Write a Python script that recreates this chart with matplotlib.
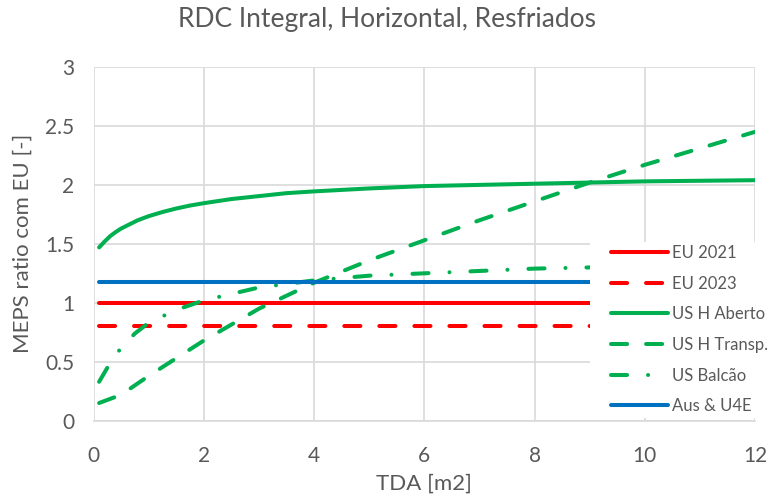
import matplotlib
matplotlib.use("Agg")
import matplotlib.pyplot as plt
from matplotlib.patches import Rectangle

plt.rcParams['font.family'] = ['Lato', 'DejaVu Sans']

# ---- data ----
x_const = [0.1, 12]
eu2021 = [1.0, 1.0]
eu2023 = [0.8, 0.8]
aus_u4e = [1.18, 1.18]

x_aberto = [0.1, 0.2, 0.3, 0.4, 0.5, 0.65, 0.8, 1, 1.25, 1.5, 1.75, 2, 2.5, 3, 3.5, 4, 5, 6, 7, 8, 9, 10, 11, 12]
y_aberto = [1.47, 1.52, 1.565, 1.60, 1.63, 1.665, 1.70, 1.735, 1.77, 1.80, 1.825, 1.845, 1.88, 1.905, 1.93, 1.945,
            1.97, 1.99, 2.00, 2.01, 2.02, 2.03, 2.035, 2.04]

x_transp = [0.1, 0.5, 1, 1.5, 2, 3, 4, 5, 6, 7, 8, 9, 10, 11, 12]
y_transp = [0.15, 0.22, 0.38, 0.53, 0.68, 0.95, 1.17, 1.36, 1.53, 1.70, 1.86, 2.02, 2.17, 2.31, 2.45]

x_balcao = [0.1, 0.25, 0.5, 0.75, 1, 1.5, 2, 3, 4, 5, 6, 8, 10, 12]
y_balcao = [0.33, 0.45, 0.62, 0.74, 0.83, 0.94, 1.02, 1.13, 1.19, 1.23, 1.25, 1.29, 1.31, 1.32]

labels = ["EU 2021", "EU 2023", "US H Aberto", "US H Transp.", "US Balcão", "Aus & U4E"]
xticks = [0, 2, 4, 6, 8, 10, 12]
yticks = [0, 0.5, 1, 1.5, 2, 2.5, 3]
ytick_labels = ["0", "0.5", "1", "1.5", "2", "2.5", "3"]

RED = "#FF0000"
GREEN = "#00B050"
BLUE = "#0070C0"
TXT = "#595959"
GRID = "#D9D9D9"
LW = 2.9

fig = plt.figure(figsize=(7.73, 4.94), dpi=100)
ax = fig.add_axes([93.6/773, 1-420.7/494, (755-93.6)/773, (420.7-67)/494])

common = dict(lw=LW, solid_capstyle='round', dash_capstyle='round', solid_joinstyle='round')
l1, = ax.plot(x_const, eu2021, color=RED, **common)
l2, = ax.plot(x_const, eu2023, color=RED, dashes=(4.0, 4.7), **common)
l3, = ax.plot(x_aberto, y_aberto, color=GREEN, **common)
l4, = ax.plot(x_transp, y_transp, color=GREEN, dashes=(4.0, 4.7), **common)
l5, = ax.plot(x_balcao, y_balcao, color=GREEN, dashes=(4.0, 5.2, 0.01, 5.2), **common)
l6, = ax.plot(x_const, aus_u4e, color=BLUE, **common)

ax.set_xlim(0, 12)
ax.set_ylim(0, 3)
ax.set_xticks(xticks)
ax.set_yticks(yticks)
ax.set_yticklabels(ytick_labels)
ax.grid(True, color=GRID, lw=1.2)
ax.set_axisbelow(True)
for s in ['top', 'right', 'left']:
    ax.spines[s].set_visible(False)
ax.spines['bottom'].set_color(GRID)
ax.spines['bottom'].set_linewidth(1.2)
ax.tick_params(axis='both', length=0, labelsize=15, colors=TXT)
ax.tick_params(axis='y', pad=14)
ax.tick_params(axis='x', pad=18)

ax.set_xlabel("TDA [m2]", fontsize=16, color=TXT, labelpad=6)
ax.set_ylabel("MEPS ratio com EU [-]", fontsize=16, color=TXT, labelpad=9)
fig.text(0.5, 1-19/494, "RDC Integral, Horizontal, Resfriados", ha='center', va='center',
         fontsize=19, color=TXT)

# white legend background
x0 = (590-93.6)/(755-93.6)
y0 = (420.7-418)/(420.7-67)
y1 = (420.7-242)/(420.7-67)
ax.add_patch(Rectangle((x0, y0), 1.05-x0, y1-y0, transform=ax.transAxes,
                       facecolor='white', edgecolor='none', zorder=5, clip_on=False))

leg = ax.legend([l1, l2, l3, l4, l5, l6], labels, loc='upper left',
                bbox_to_anchor=(606/773, 1-240/494), bbox_transform=fig.transFigure,
                frameon=False, fontsize=12, handlelength=3.4, handletextpad=0.25,
                labelspacing=0.88, borderpad=0.3, borderaxespad=0)
for t in leg.get_texts():
    t.set_color(TXT)
leg.set_zorder(6)

fig.savefig("out.png", dpi=100)
